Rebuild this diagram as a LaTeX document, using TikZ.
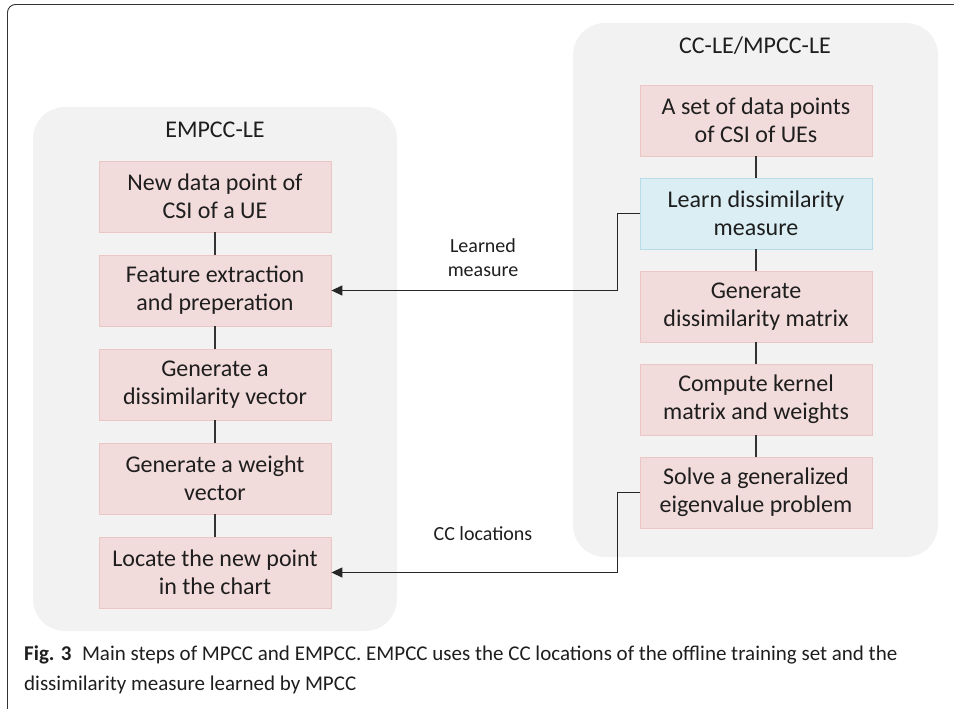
\documentclass[tikz,border=0pt]{standalone}
\usepackage{fontspec}
\setmainfont{Carlito}
\usetikzlibrary{arrows.meta,calc}
\definecolor{panelgray}{HTML}{F2F2F2}
\definecolor{pinkfill}{HTML}{F2DCDB}
\definecolor{pinkline}{HTML}{EBC6C5}
\definecolor{bluefill}{HTML}{DAEEF3}
\definecolor{blueline}{HTML}{B7DDE8}
\definecolor{txt}{HTML}{1E1E1E}
\begin{document}
\begin{tikzpicture}[x=1pt,y=-1pt,
  panel/.style={fill=panelgray,draw=none,rounded corners=32pt},
  stepbox/.style={draw=pinkline,fill=pinkfill,line width=0.8pt,minimum width=232pt,minimum height=71pt,inner sep=0pt,align=center,font=\fontsize{24}{28}\selectfont,text=txt},
  bluebox/.style={stepbox,draw=blueline,fill=bluefill},
  title/.style={font=\fontsize{24}{28}\selectfont,text=txt},
  lbl/.style={font=\fontsize{20}{24}\selectfont,text=txt,align=center},
  link/.style={draw=black!80,line width=1.3pt},
  arr/.style={draw=black!85,line width=1.3pt,-{Triangle[length=11pt,width=10pt]}}
]
\useasboundingbox (0,0) rectangle (954,709);
% outer frame
\draw[black!80,line width=0.9pt,rounded corners=8pt] (954,4.5) -- (7.5,4.5) -- (7.5,720);
% panels
\fill[panel] (33,107) rectangle (397,631);
\fill[panel] (573,23) rectangle (938,557);
\node[title] (tl) at (215,130) {EMPCC-LE};
\node[title] (tr) at (755,46) {CC-LE/MPCC-LE};
% left boxes
\node[stepbox] (l1) at (215,196.5) {New data point of\\CSI of a UE};
\node[stepbox] (l2) at (215,290.5) {Feature extraction\\and preperation};
\node[stepbox] (l3) at (215,384.5) {Generate a\\dissimilarity vector};
\node[stepbox] (l4) at (215,478.5) {Generate a weight\\vector};
\node[stepbox] (l5) at (215,572.5) {Locate the new point\\in the chart};
% right boxes
\node[stepbox] (r1) at (756,120.5) {A set of data points\\of CSI of UEs};
\node[bluebox] (r2) at (756,213.5) {Learn dissimilarity\\measure};
\node[stepbox] (r3) at (756,306.5) {Generate\\dissimilarity matrix};
\node[stepbox] (r4) at (756,399.5) {Compute kernel\\matrix and weights};
\node[stepbox] (r5) at (756,492.5) {Solve a generalized\\eigenvalue problem};
% vertical links
\foreach \a/\b in {l1/l2,l2/l3,l3/l4,l4/l5,r1/r2,r2/r3,r3/r4,r4/r5}
  \draw[link] (\a.south) -- (\b.north);
% cross arrows
\coordinate (bx) at (617.5,0);
\draw[arr] (r2.west) -- (r2.west -| bx) |- (l2.east);
\draw[arr] (r5.west) -- (r5.west -| bx) |- (l5.east);
\node[lbl] (m1) at (483,258) {Learned\\measure};
\node[lbl] (m2) at (483,534) {CC locations};
% caption
\node[anchor=west,align=left,font=\fontsize{21}{30}\selectfont,text=txt,inner sep=0pt] (cap) at (24,670)
  {\textbf{Fig. 3}\enspace Main steps of MPCC and EMPCC. EMPCC uses the CC locations of the offline training set and the\\dissimilarity measure learned by MPCC};
\end{tikzpicture}
\end{document}
